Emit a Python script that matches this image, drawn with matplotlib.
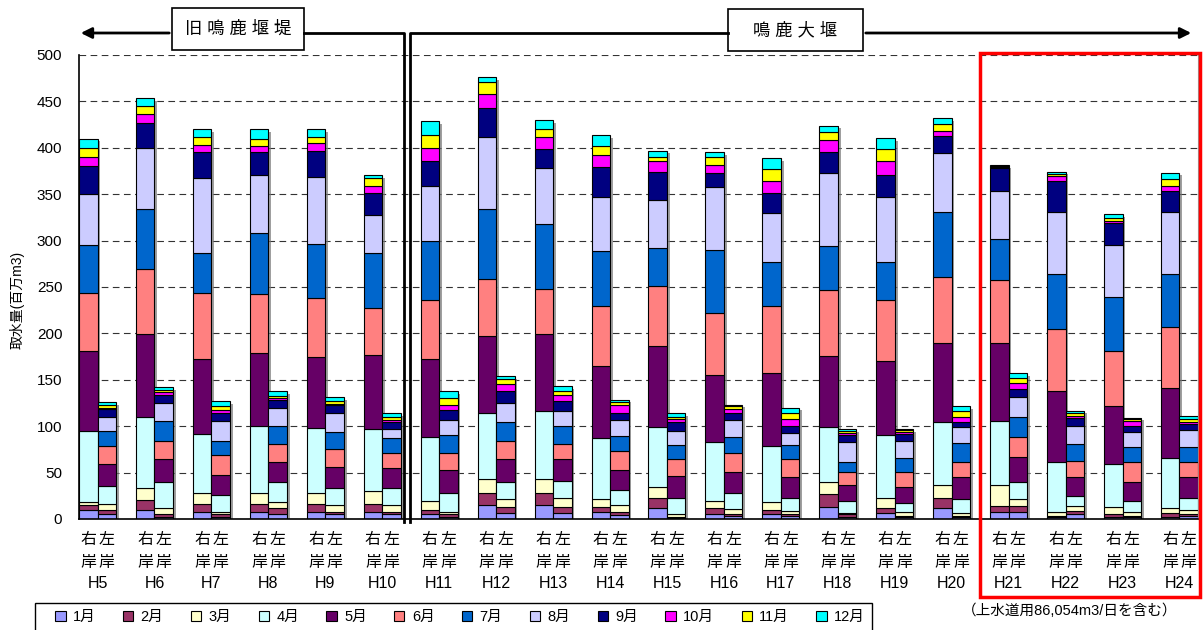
import numpy as np
import matplotlib
matplotlib.use("Agg")
import matplotlib.pyplot as plt
from matplotlib.lines import Line2D
from matplotlib.patches import Rectangle
import matplotlib.patheffects as pe

plt.rcParams['font.family'] = ['Liberation Sans', 'Noto Sans CJK JP', 'DejaVu Sans']

years = ['H5', 'H6', 'H7', 'H8', 'H9', 'H10', 'H11', 'H12', 'H13', 'H14',
         'H15', 'H16', 'H17', 'H18', 'H19', 'H20', 'H21', 'H22', 'H23', 'H24']
months = ['1月', '2月', '3月', '4月', '5月', '6月',
          '7月', '8月', '9月', '10月', '11月', '12月']
colors = ['#9999FF', '#993366', '#FFFFCC', '#CCFFFF', '#660066', '#FF8080',
          '#0066CC', '#CCCCFF', '#000080', '#FF00FF', '#FFFF00', '#00FFFF']

# 右岸 (百万m3)
right_m1 = [9.7, 9.7, 7.9, 7.9, 7.9, 7.9, 5, 15, 15, 7.9, 11.5, 5, 5, 13.3, 6.1, 11.5, 7.9, 2.5, 1.8, 2.5]
right_m2 = [5.3, 11.1, 8.1, 8.1, 8.1, 8.1, 4.7, 12.6, 12.6, 5.4, 10.7, 6.5, 4.7, 13.2, 5.4, 11.5, 6.5, 1.1, 3.6, 3.6]
right_m3 = [3, 12.2, 11.6, 11.6, 11.6, 13.8, 10, 15.4, 15.4, 8.2, 12.6, 8.2, 8.2, 12.9, 11.5, 13.6, 22.2, 3.6, 7.9, 5.4]
right_m4 = [77, 77, 64.4, 72.4, 70.4, 67, 68.9, 70.7, 73.5, 65.3, 63.8, 62.8, 61, 59.2, 67.4, 67.4, 69, 54.6, 46, 53.9]
right_m5 = [86, 89.7, 80.8, 79.3, 76.6, 79.6, 84.2, 83.5, 83.2, 77.8, 87.4, 72.4, 78.9, 76.7, 79.6, 85.7, 84.4, 76.5, 62.8, 76.1]
right_m6 = [62.5, 70, 70.7, 62.7, 63.8, 50.9, 62.8, 61.7, 48.3, 64.4, 64.6, 67.4, 71.2, 71.7, 65.6, 71, 67.5, 66.1, 59.3, 65]
right_m7 = [51.5, 64.5, 43, 66, 58.1, 59.2, 64.4, 75.3, 70, 59.3, 41.3, 67.7, 47.8, 46.7, 41.2, 70.6, 44.2, 59.2, 57.5, 57.5]
right_m8 = [55, 66, 80.5, 62.7, 72.5, 41.2, 58.6, 77.1, 60.3, 59.1, 52.3, 67.5, 52.7, 78.8, 70.6, 62.7, 52.1, 67.6, 56.4, 67.2]
right_m9 = [30, 26.7, 29, 25.3, 28, 23.3, 26.8, 31.5, 20.4, 31.6, 30.1, 15, 21.5, 23.3, 23.3, 18.3, 24.1, 33.4, 23.3, 22.2]
right_m10 = [10, 9.3, 7, 6, 8, 7.6, 14.6, 15.1, 13.3, 13.3, 11.1, 9.4, 13, 12.6, 15.5, 6.1, 1.8, 5, 2.9, 5.8]
right_m11 = [10, 9, 9, 8, 7, 8.4, 13.8, 12.5, 8.2, 9.3, 5.1, 8.6, 13.2, 8.2, 12.5, 7.2, 0.7, 1.8, 3.2, 6.8]
right_m12 = [10, 8.6, 8, 10, 8, 3.7, 14.7, 6.1, 9.8, 12.2, 6.5, 4.6, 11.8, 7.2, 11.5, 6.1, 1.1, 2.9, 3.6, 7.2]

# 左岸 (百万m3)
left_m1 = [5, 2.5, 2.5, 5, 5, 5, 2.5, 6, 6, 4.3, 1.4, 3.2, 3.2, 2.5, 1.8, 1.8, 7.9, 5, 1.8, 3.2]
left_m2 = [4.7, 2.5, 2.5, 6.5, 2.9, 2.9, 2.5, 7.3, 7.3, 3.6, 1.1, 2.2, 2.2, 2.5, 1.8, 1.4, 6.5, 3.6, 1.8, 2.2]
left_m3 = [6.3, 6.5, 2.9, 6.5, 7.1, 7.1, 2.9, 8.2, 8.9, 7.1, 2.9, 5, 3.2, 1.8, 3.6, 2.9, 7.2, 5.4, 3.6, 4.3]
left_m4 = [20, 28, 18.1, 21.4, 18, 18, 19.7, 17.9, 18.7, 16.2, 17.6, 17.2, 14.4, 12.9, 9.7, 15.4, 18.6, 10.8, 12.2, 12.6]
left_m5 = [23, 25, 21.3, 21.6, 22.6, 21.5, 25.1, 25.1, 23.3, 21.5, 23.3, 23.3, 21.8, 16.9, 17.9, 23.3, 27, 20.1, 20.1, 22.6]
left_m6 = [20, 20, 21.5, 19.7, 19.7, 16.1, 17.9, 19.8, 16.5, 20.4, 17.9, 19.7, 19.7, 14.3, 16.1, 16.9, 21.5, 17.6, 21.6, 16.2]
left_m7 = [16, 21, 15.5, 19.3, 18.7, 16.2, 19.8, 19.7, 19.3, 16.2, 15.4, 18, 15.1, 10.8, 15.1, 20.4, 21.6, 18, 16.1, 16.1]
left_m8 = [15, 20, 21.1, 19.8, 19.7, 10, 16.8, 21, 16.5, 17.9, 15.4, 18.6, 13.6, 20.8, 18.3, 16.5, 21.5, 19.7, 16.2, 18.7]
left_m9 = [8, 8.4, 9, 8.9, 8.9, 7.9, 10, 13, 10.5, 7.5, 9.7, 7.2, 7.2, 7.9, 7.8, 5.4, 8.3, 9, 7.2, 6.5]
left_m10 = [2, 2.6, 2.8, 1.8, 1.8, 2.5, 6.1, 8, 6.4, 7.9, 2.9, 4.6, 7.2, 2.5, 1.8, 6, 6.1, 1.8, 5.4, 1.8]
left_m11 = [2.6, 2, 4.8, 2.2, 2.6, 2.8, 7.2, 5.3, 4.3, 3.6, 2.4, 3, 7.1, 1.8, 1.8, 6.5, 5.4, 2.9, 1.4, 3.2]
left_m12 = [3, 3.3, 5, 5.3, 4.6, 3.7, 7.5, 2.5, 5.3, 2.5, 3.7, 1.3, 5.4, 2.1, 1.1, 5.4, 5.4, 2.8, 1.8, 3.6]

right = np.array([right_m1, right_m2, right_m3, right_m4, right_m5, right_m6,
                  right_m7, right_m8, right_m9, right_m10, right_m11, right_m12])
left = np.array([left_m1, left_m2, left_m3, left_m4, left_m5, left_m6,
                 left_m7, left_m8, left_m9, left_m10, left_m11, left_m12])

W, H = 1203, 630
fig = plt.figure(figsize=(W / 100, H / 100), dpi=100)
ax = fig.add_axes([79 / W, 1 - 519 / H, (1198 - 79) / W, (519 - 55) / H])

def fx(px):
    return px / W

def fy(py):
    return 1 - py / H

x = np.arange(len(years))
bw = 0.325
xr = x - bw / 2
xl = x + bw / 2

# 影
shadow = [pe.SimplePatchShadow(offset=(2, -2), shadow_rgbFace='#777777', alpha=0.7), pe.Normal()]
ax.bar(xr, right.sum(axis=0), bw, color='white', edgecolor='none', zorder=1, path_effects=shadow)
ax.bar(xl, left.sum(axis=0), bw, color='white', edgecolor='none', zorder=1, path_effects=shadow)

handles = []
br = np.zeros(len(years))
bl = np.zeros(len(years))
for i in range(12):
    h = ax.bar(xr, right[i], bw, bottom=br, color=colors[i], edgecolor='black', linewidth=0.8, zorder=2)
    ax.bar(xl, left[i], bw, bottom=bl, color=colors[i], edgecolor='black', linewidth=0.8, zorder=2)
    br += right[i]
    bl += left[i]
    handles.append(h)

ax.set_xlim(-bw, len(years) - 1 + bw)
ax.set_ylim(0, 500)
ax.set_yticks(np.arange(0, 501, 50))
ax.tick_params(axis='y', length=0, pad=12, labelsize=11)
ax.set_xticks([])
ax.yaxis.grid(True, color='#333333', linestyle=(0, (6, 4)), linewidth=0.8)
ax.set_axisbelow(True)
ax.spines['top'].set_visible(False)
ax.spines['right'].set_color('#999999')
ax.spines['left'].set_linewidth(1.2)
ax.spines['bottom'].set_linewidth(1.2)

# x軸ラベル
tr = ax.get_xaxis_transform()
for i in range(len(years)):
    ax.text(xr[i], -0.045, '右', transform=tr, ha='center', va='center', fontsize=11.5)
    ax.text(xl[i], -0.045, '左', transform=tr, ha='center', va='center', fontsize=11.5)
    ax.text(xr[i], -0.093, '岸', transform=tr, ha='center', va='center', fontsize=11.5)
    ax.text(xl[i], -0.093, '岸', transform=tr, ha='center', va='center', fontsize=11.5)
    ax.text(x[i], -0.138, years[i], transform=tr, ha='center', va='center', fontsize=11.5)

fig.text(fx(17), fy(300), '取水量(百万m3)', rotation=90, ha='center', va='center', fontsize=10)

# 堰の区分
lw = 2
fig.add_artist(Line2D([fx(304), fx(404), fx(404)], [fy(33), fy(33), fy(522)], color='black', lw=lw))
fig.add_artist(Line2D([fx(728), fx(410), fx(410)], [fy(33), fy(33), fy(522)], color='black', lw=lw))
ax.annotate('', xy=(fx(78), fy(33)), xytext=(fx(172), fy(33)), xycoords='figure fraction',
            arrowprops=dict(arrowstyle='-|>', color='black', lw=lw, mutation_scale=16))
ax.annotate('', xy=(fx(1194), fy(33)), xytext=(fx(863), fy(33)), xycoords='figure fraction',
            arrowprops=dict(arrowstyle='-|>', color='black', lw=lw, mutation_scale=16))
fig.text(fx(238), fy(29), '旧 鳴 鹿 堰 堤', ha='center', va='center', fontsize=12.5)
fig.add_artist(Rectangle((fx(172), fy(50)), fx(304) - fx(172), fy(8) - fy(50), fill=False, ec='black', lw=1.2))
fig.text(fx(795), fy(30), '鳴 鹿 大 堰', ha='center', va='center', fontsize=12.5)
fig.add_artist(Rectangle((fx(728), fy(51)), fx(863) - fx(728), fy(9) - fy(51), fill=False, ec='black', lw=1.2))

# 赤枠
fig.add_artist(Rectangle((fx(980), fy(597)), fx(1200) - fx(980), fy(53) - fy(597),
                         fill=False, ec='#FF0000', lw=2.5))
fig.text(fx(1070), fy(611), '（上水道用86,054m3/日を含む）', ha='center', va='center', fontsize=10.5)

fig.legend(handles, months, ncol=12, loc='upper left',
           bbox_to_anchor=(fx(48), fy(603), fx(872) - fx(48), 0), mode='expand',
           fontsize=10.5, handlelength=0.7, handleheight=0.7, handletextpad=0.5,
           frameon=False, borderaxespad=0, borderpad=0.5)
fig.add_artist(Rectangle((fx(35), fy(640)), fx(872) - fx(35), fy(603) - fy(640),
                         fill=False, ec='black', lw=1.0))

fig.savefig('out.png', dpi=100)
